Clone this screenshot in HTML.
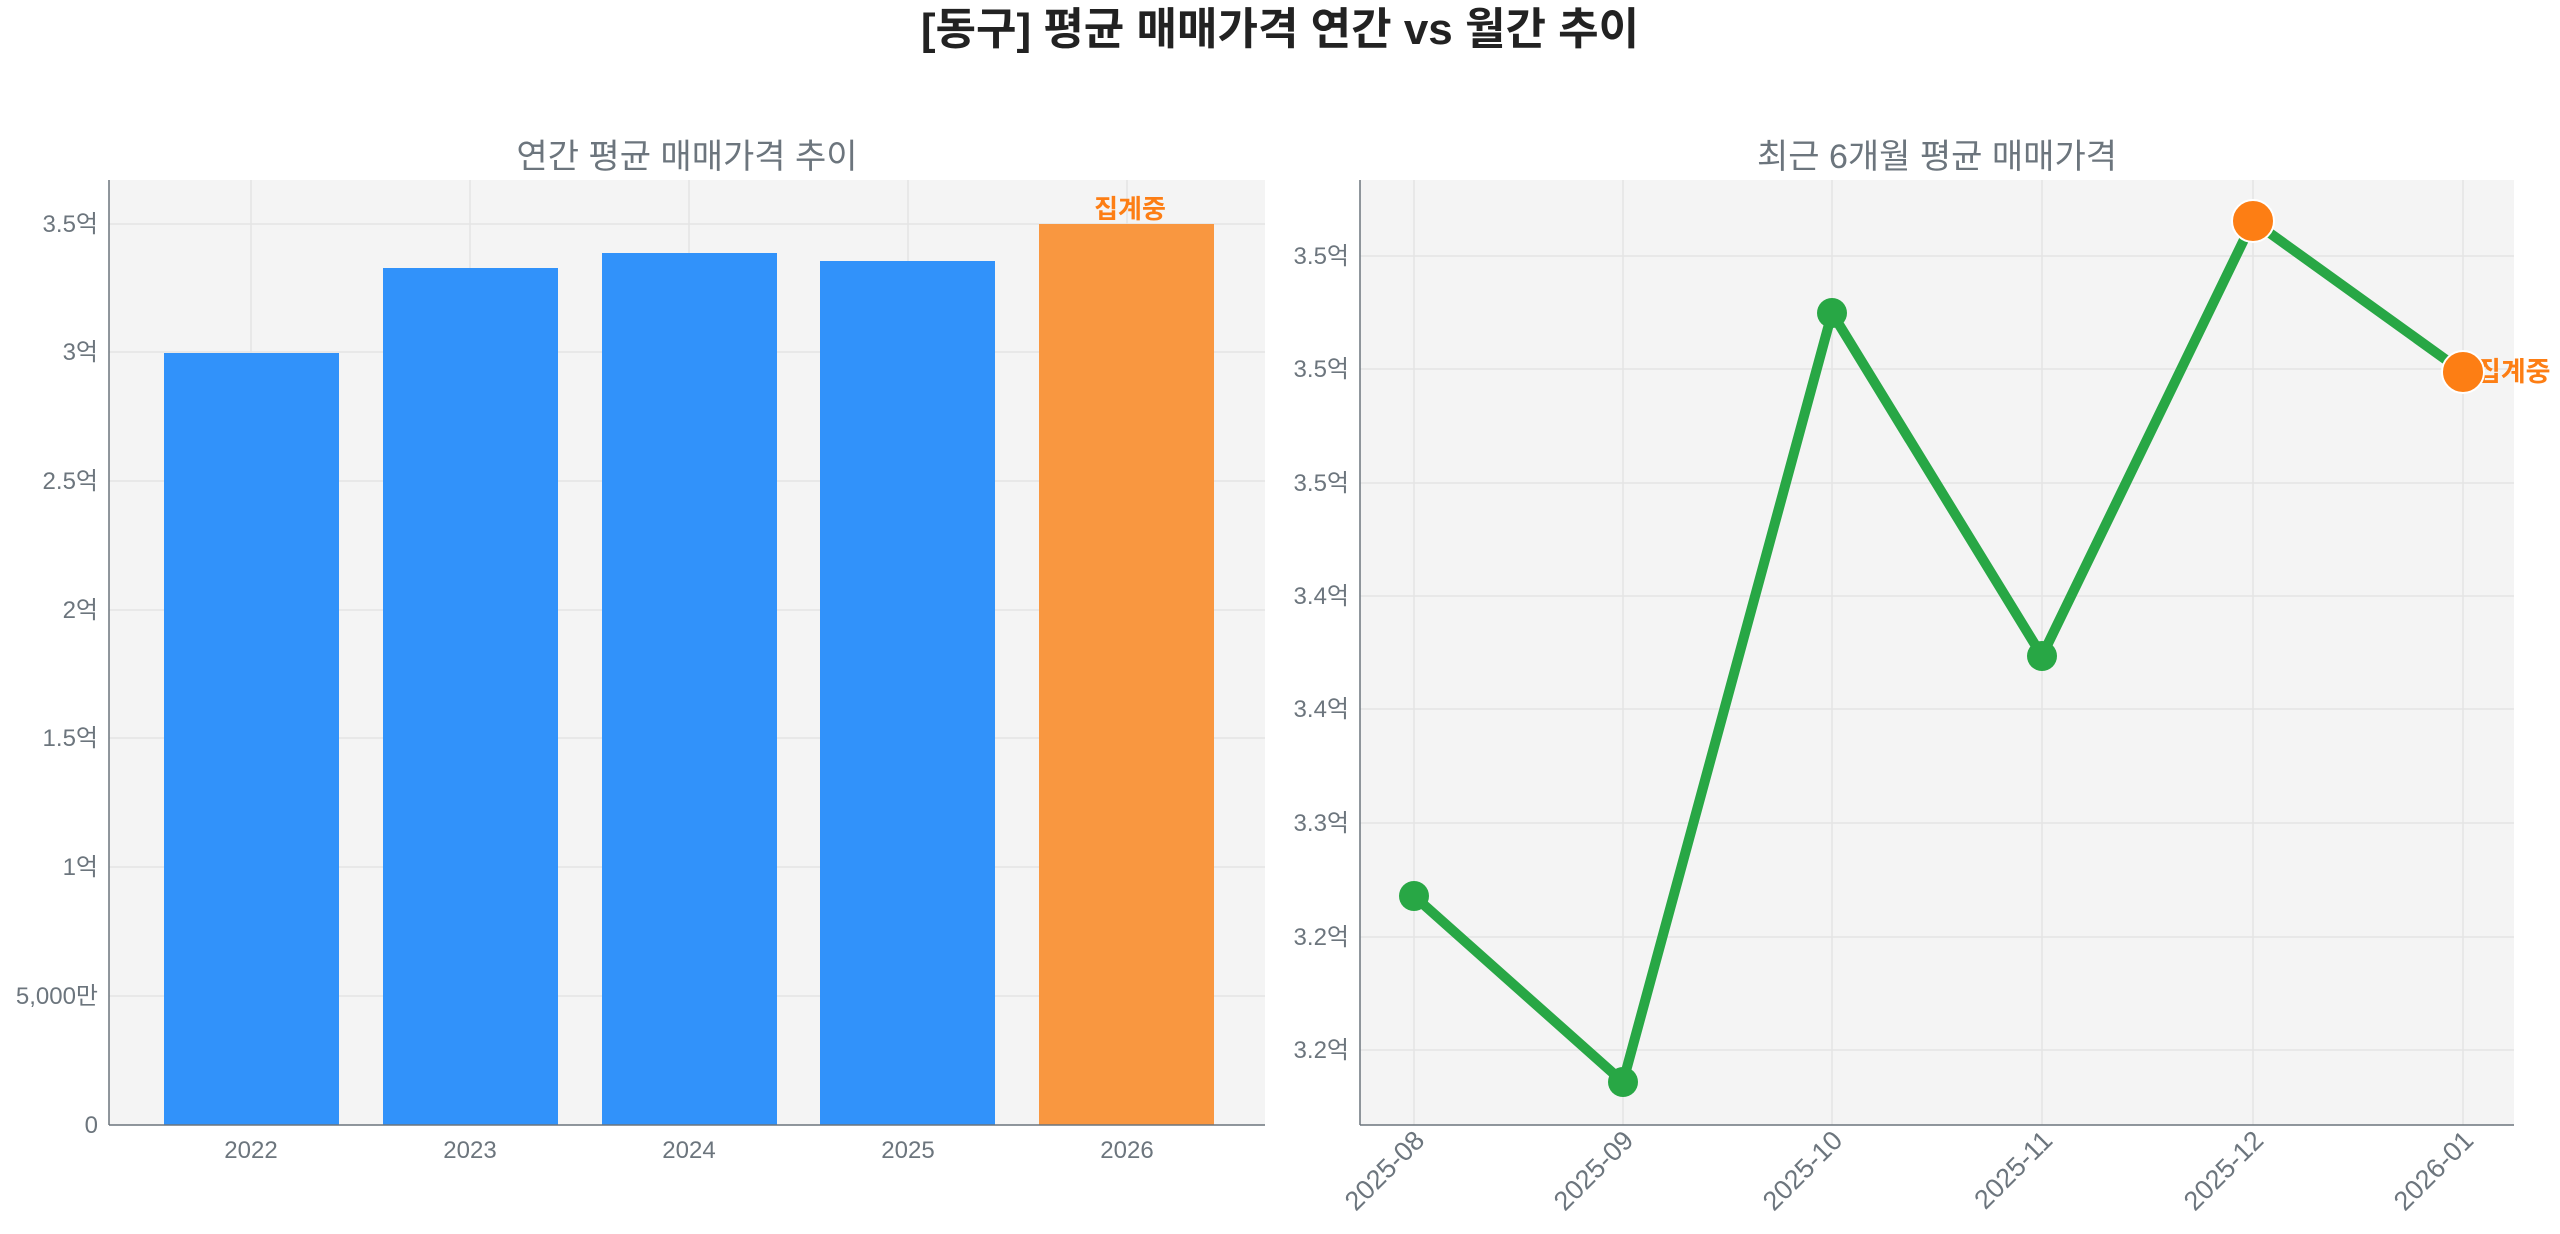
<!DOCTYPE html>
<html><head><meta charset="utf-8"><style>
html,body{margin:0;padding:0;background:#fff;}
svg{display:block;font-family:"Liberation Sans","Noto Sans CJK KR",sans-serif;}
</style></head><body>
<svg width="2560" height="1234" viewBox="0 0 2560 1234" xmlns="http://www.w3.org/2000/svg">
<text x="1280" y="44" text-anchor="middle" font-size="44" font-weight="bold" fill="#222">[동구] 평균 매매가격 연간 vs 월간 추이</text>

<!-- Left -->
<text x="687" y="168" text-anchor="middle" font-size="34" fill="#6c757d">연간 평균 매매가격 추이</text>
<rect x="109" y="180" width="1156" height="945" fill="#f4f4f4"/>
<g stroke="#e4e4e4" stroke-width="1.5">
<line x1="109" x2="1265" y1="996" y2="996"/><line x1="109" x2="1265" y1="867" y2="867"/>
<line x1="109" x2="1265" y1="738" y2="738"/><line x1="109" x2="1265" y1="610" y2="610"/>
<line x1="109" x2="1265" y1="481" y2="481"/><line x1="109" x2="1265" y1="352" y2="352"/>
<line x1="109" x2="1265" y1="224" y2="224"/>
<line x1="251" x2="251" y1="180" y2="1125"/><line x1="470" x2="470" y1="180" y2="1125"/>
<line x1="689" x2="689" y1="180" y2="1125"/><line x1="908" x2="908" y1="180" y2="1125"/>
<line x1="1127" x2="1127" y1="180" y2="1125"/>
</g>
<g fill="#3192fa">
<rect x="164" y="353" width="175" height="772"/>
<rect x="383" y="268" width="175" height="857"/>
<rect x="602" y="253" width="175" height="872"/>
<rect x="820" y="261" width="175" height="864"/>
</g>
<rect x="1039" y="224" width="175" height="901" fill="#f99740"/>
<text x="1130" y="218" text-anchor="middle" font-size="26" font-weight="bold" fill="#fd7e14">집계중</text>
<g stroke="#6c757d" stroke-width="1.5"><line x1="109" x2="109" y1="180" y2="1125"/><line x1="109" x2="1265" y1="1125" y2="1125"/></g>
<g font-size="24" fill="#6c757d" text-anchor="end">
<text x="98" y="1133">0</text><text x="98" y="1004">5,000만</text><text x="98" y="875">1억</text>
<text x="98" y="746">1.5억</text><text x="98" y="618">2억</text><text x="98" y="489">2.5억</text>
<text x="98" y="360">3억</text><text x="98" y="232">3.5억</text>
</g>
<g font-size="24" fill="#6c757d" text-anchor="middle">
<text x="251" y="1158">2022</text><text x="470" y="1158">2023</text><text x="689" y="1158">2024</text>
<text x="908" y="1158">2025</text><text x="1127" y="1158">2026</text>
</g>

<!-- Right -->
<text x="1937" y="168" text-anchor="middle" font-size="34" fill="#6c757d">최근 6개월 평균 매매가격</text>
<rect x="1360" y="180" width="1154" height="945" fill="#f4f4f4"/>
<g stroke="#e4e4e4" stroke-width="1.5">
<line x1="1360" x2="2514" y1="256" y2="256"/><line x1="1360" x2="2514" y1="369" y2="369"/>
<line x1="1360" x2="2514" y1="483" y2="483"/><line x1="1360" x2="2514" y1="596" y2="596"/>
<line x1="1360" x2="2514" y1="709" y2="709"/><line x1="1360" x2="2514" y1="823" y2="823"/>
<line x1="1360" x2="2514" y1="937" y2="937"/><line x1="1360" x2="2514" y1="1050" y2="1050"/>
<line x1="1414" x2="1414" y1="180" y2="1125"/><line x1="1623" x2="1623" y1="180" y2="1125"/>
<line x1="1832" x2="1832" y1="180" y2="1125"/><line x1="2042" x2="2042" y1="180" y2="1125"/>
<line x1="2253" x2="2253" y1="180" y2="1125"/><line x1="2463" x2="2463" y1="180" y2="1125"/>
</g>
<text x="2476" y="381" font-size="27" font-weight="bold" fill="#fd7e14">집계중</text>
<polyline points="1414,896 1623,1082 1832,313 2042,656 2253,221 2463,372" fill="none" stroke="#28a745" stroke-width="10" stroke-linejoin="round"/>
<g fill="#28a745">
<circle cx="1414" cy="896" r="15"/><circle cx="1623" cy="1082" r="15"/>
<circle cx="1832" cy="313" r="15"/><circle cx="2042" cy="656" r="15"/>
</g>
<g fill="#fd7e14" stroke="#fff" stroke-width="2">
<circle cx="2253" cy="221" r="21"/><circle cx="2463" cy="372" r="21"/>
</g>
<g stroke="#6c757d" stroke-width="1.5"><line x1="1360" x2="1360" y1="180" y2="1125"/><line x1="1360" x2="2514" y1="1125" y2="1125"/></g>
<g font-size="24" fill="#6c757d" text-anchor="end">
<text x="1349" y="264">3.5억</text><text x="1349" y="377">3.5억</text><text x="1349" y="491">3.5억</text>
<text x="1349" y="604">3.4억</text><text x="1349" y="717">3.4억</text><text x="1349" y="831">3.3억</text>
<text x="1349" y="945">3.2억</text><text x="1349" y="1058">3.2억</text>
</g>
<g font-size="27" fill="#6c757d" text-anchor="end">
<text transform="translate(1426,1142) rotate(-45)">2025-08</text>
<text transform="translate(1635,1142) rotate(-45)">2025-09</text>
<text transform="translate(1844,1142) rotate(-45)">2025-10</text>
<text transform="translate(2054,1142) rotate(-45)">2025-11</text>
<text transform="translate(2265,1142) rotate(-45)">2025-12</text>
<text transform="translate(2475,1142) rotate(-45)">2026-01</text>
</g>
</svg>
</body></html>
